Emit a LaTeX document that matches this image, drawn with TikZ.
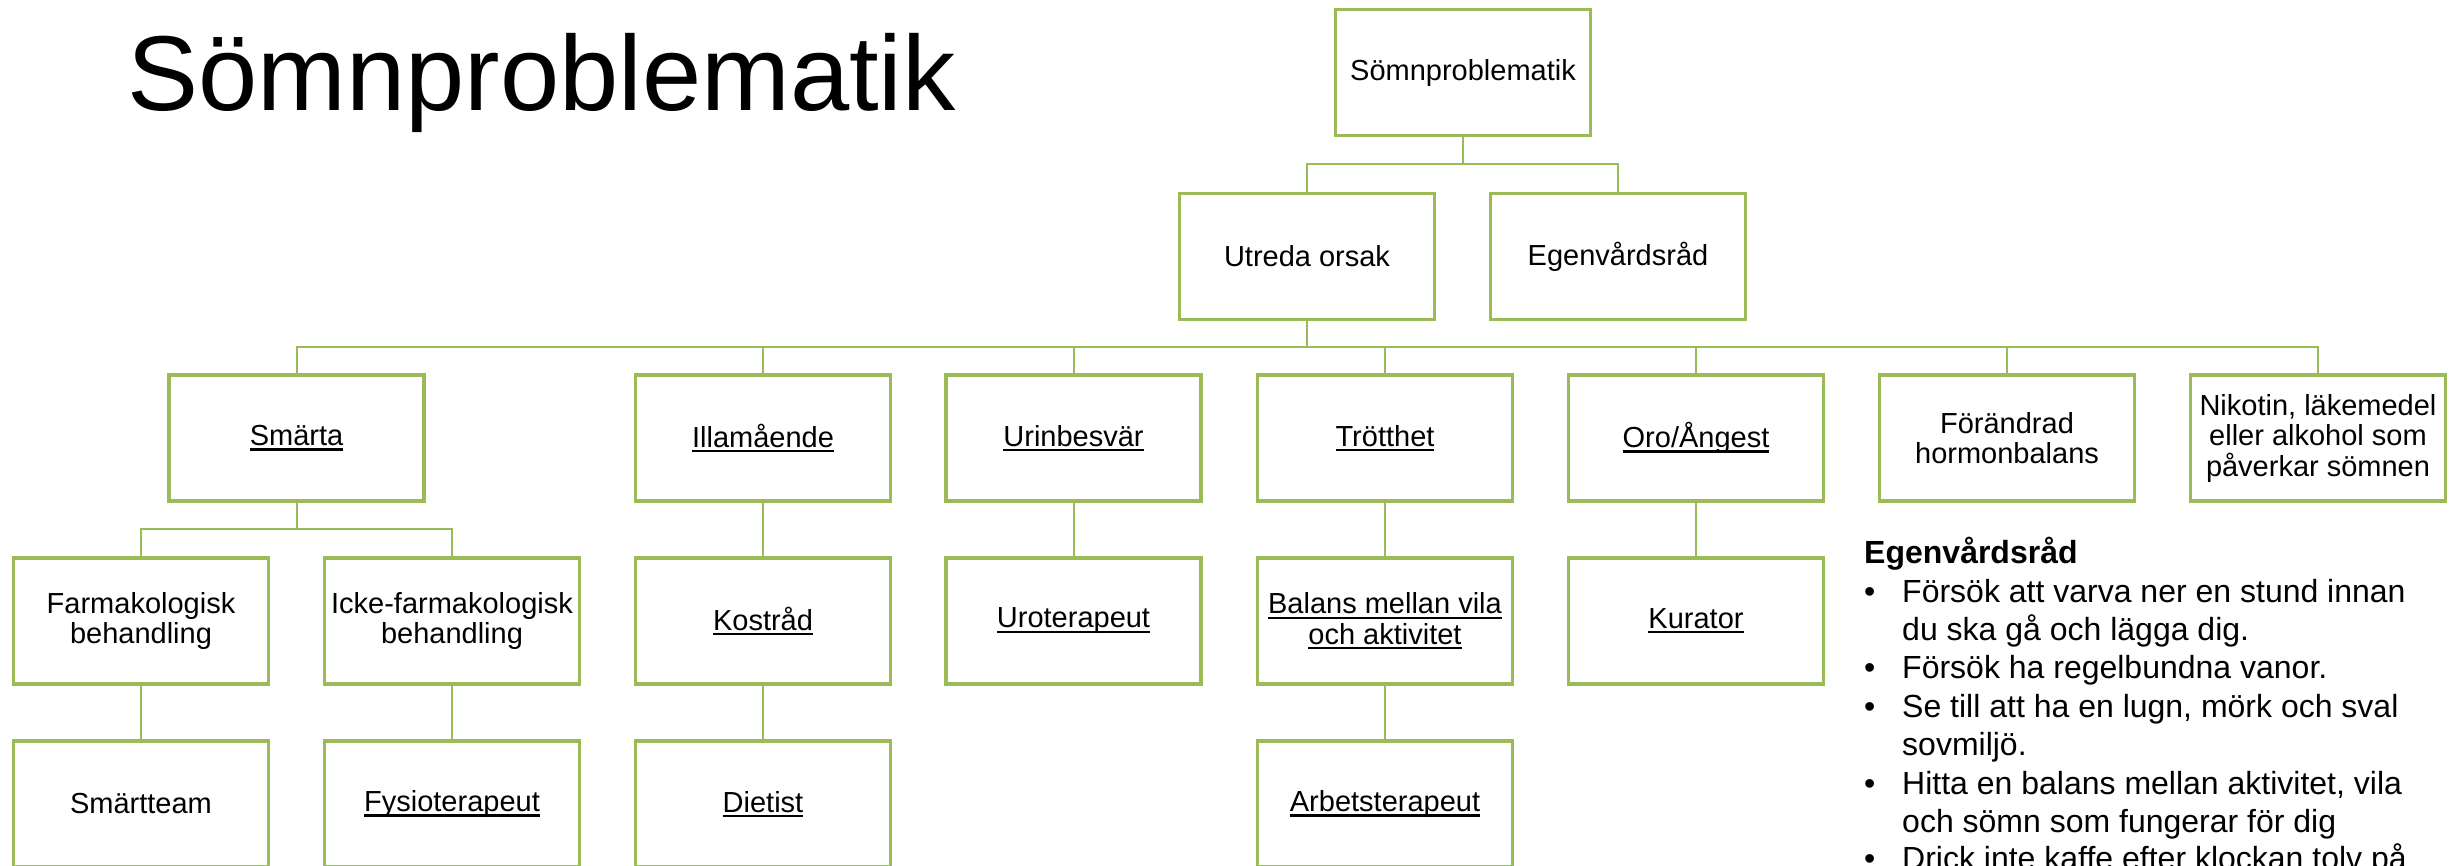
\documentclass[tikz,border=0pt]{standalone}
\usepackage{fontspec}
\setmainfont{Liberation Sans}
\definecolor{leafgreen}{HTML}{9BBB59}
\newcommand\boxfont{\fontsize{29}{30.5}\selectfont}
\newcommand\tipfont{\fontsize{32}{38.5}\selectfont}
\newsavebox\ulbox
% underline at a fixed depth below the baseline, one line at a time
\newcommand\ulin[1]{\sbox\ulbox{#1}\rlap{\rule[-5pt]{\wd\ulbox}{2.2pt}}\usebox\ulbox}
\tikzset{
  orgbox/.style={draw=leafgreen, line width=3.8pt, fill=white,
    minimum width=255pt, minimum height=126pt, inner sep=1pt,
    align=center, font=\boxfont},
  link/.style={draw=leafgreen, line width=2pt},
  tipline/.style={anchor=base west, inner sep=0pt, font=\tipfont}
}
\begin{document}
\begin{tikzpicture}[x=1pt,y=-1pt]
\useasboundingbox (0,0) rectangle (2460,865);
\clip (0,0) rectangle (2460,865);
\fill[white] (0,0) rectangle (2460,865);

% heading
\node[anchor=base west, inner sep=0pt, font=\fontsize{106.5}{120}\selectfont] (title) at (127,110) {Sömnproblematik};

% top of the tree
\node[orgbox] (root) at (1463,72.5) {Sömnproblematik};
\node[orgbox] (utreda) at (1307,256.5) {Utreda orsak};
\node[orgbox] (egen) at (1618,256.5) {Egenvårdsråd};

% causes
\node[orgbox] (smarta) at (296.5,438) {\ulin{Smärta}};
\node[orgbox] (illa) at (763,438) {\ulin{Illamående}};
\node[orgbox] (urin) at (1073.5,438) {\ulin{Urinbesvär}};
\node[orgbox] (trott) at (1385,438) {\ulin{Trötthet}};
\node[orgbox] (oro) at (1696,438) {\ulin{Oro/Ångest}};
\node[orgbox] (forand) at (2007,438) {Förändrad\\hormonbalans};
\node[orgbox] (nikotin) at (2318,438) {Nikotin, läkemedel\\eller alkohol som\\påverkar sömnen};

% measures
\node[orgbox] (farm) at (141,621) {Farmakologisk\\behandling};
\node[orgbox] (icke) at (452,621) {Icke-farmakologisk\\behandling};
\node[orgbox] (kost) at (763,621) {\ulin{Kostråd}};
\node[orgbox] (uro) at (1073.5,621) {\ulin{Uroterapeut}};
\node[orgbox] (balans) at (1385,621) {\ulin{Balans mellan vila}\\\ulin{och aktivitet}};
\node[orgbox] (kurator) at (1696,621) {\ulin{Kurator}};

% professions
\node[orgbox] (smteam) at (141,804) {Smärtteam};
\node[orgbox] (fysio) at (452,804) {\ulin{Fysioterapeut}};
\node[orgbox] (dietist) at (763,804) {\ulin{Dietist}};
\node[orgbox] (arbets) at (1385,804) {\ulin{Arbetsterapeut}};

% connectors
\draw[link] (root.south) -- ++(0,27) -| (utreda.north);
\draw[link] (root.south) -- ++(0,27) -| (egen.north);
\foreach \n in {smarta,illa,urin,trott,oro,forand,nikotin}
  \draw[link] (utreda.south) -- ++(0,25.5) -| (\n.north);
\draw[link] (smarta.south) -- ++(0,26) -| (farm.north);
\draw[link] (smarta.south) -- ++(0,26) -| (icke.north);
\draw[link] (farm) -- (smteam);
\draw[link] (icke) -- (fysio);
\draw[link] (illa) -- (kost);
\draw[link] (kost) -- (dietist);
\draw[link] (urin) -- (uro);
\draw[link] (trott) -- (balans);
\draw[link] (balans) -- (arbets);
\draw[link] (oro) -- (kurator);

% self-care advice
\node[tipline, font=\tipfont\bfseries] (tiphead) at (1864,563) {Egenvårdsråd};
\node[tipline] (b1) at (1864,602) {•};
\node[tipline] (t1a) at (1902,602) {Försök att varva ner en stund innan};
\node[tipline] (t1b) at (1902,640) {du ska gå och lägga dig.};
\node[tipline] (b2) at (1864,678) {•};
\node[tipline] (t2a) at (1902,678) {Försök ha regelbundna vanor.};
\node[tipline] (b3) at (1864,717) {•};
\node[tipline] (t3a) at (1902,717) {Se till att ha en lugn, mörk och sval};
\node[tipline] (t3b) at (1902,755) {sovmiljö.};
\node[tipline] (b4) at (1864,794) {•};
\node[tipline] (t4a) at (1902,794) {Hitta en balans mellan aktivitet, vila};
\node[tipline] (t4b) at (1902,832) {och sömn som fungerar för dig};
\node[tipline] (b5) at (1864,869) {•};
\node[tipline] (t5a) at (1902,869) {Drick inte kaffe efter klockan tolv på};
\end{tikzpicture}
\end{document}
